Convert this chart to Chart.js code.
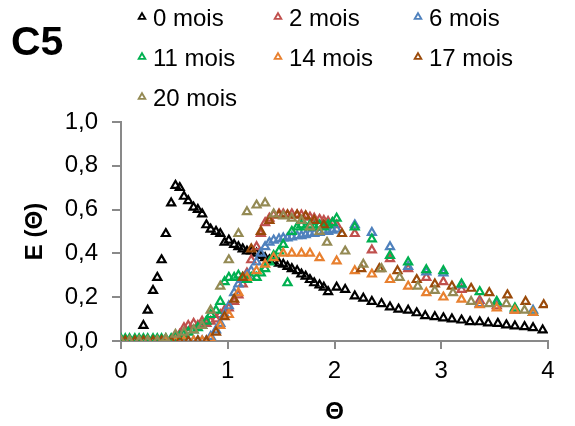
<!DOCTYPE html>
<html>
<head>
<meta charset="utf-8">
<script src="https://cdn.jsdelivr.net/npm/chart.js@4.4.1/dist/chart.umd.min.js"></script>
<style>
  html, body { margin: 0; padding: 0; background: #fff; }
  canvas { display: block; }
</style>
</head>
<body>
<canvas id="myChart" width="575" height="426"></canvas>
<script>
// theta positions
var thetaBlack = [0, 0.04, 0.08, 0.13, 0.17, 0.21, 0.25, 0.30, 0.34, 0.38, 0.42, 0.47, 0.51, 0.55, 0.59,
  0.63, 0.68, 0.72, 0.76, 0.80, 0.84, 0.89, 0.93, 0.97, 1.01, 1.06, 1.10, 1.14, 1.18, 1.22, 1.27, 1.31,
  1.35, 1.39, 1.43, 1.48, 1.52, 1.56, 1.60, 1.65, 1.69, 1.73, 1.77, 1.81, 1.86, 1.90, 1.94, 2.02, 2.10,
  2.19, 2.27, 2.35, 2.44, 2.52, 2.60, 2.69, 2.77, 2.85, 2.94, 3.02, 3.10, 3.19, 3.27, 3.36, 3.44, 3.53,
  3.61, 3.69, 3.78, 3.86, 3.95];
var thetaFine = [0, 0.04, 0.08, 0.13, 0.17, 0.21, 0.25, 0.30, 0.34, 0.38, 0.42, 0.47, 0.51, 0.55, 0.59,
  0.63, 0.68, 0.72, 0.76, 0.80, 0.84, 0.89, 0.93, 0.97, 1.01, 1.06, 1.10, 1.14, 1.18, 1.22, 1.27, 1.31,
  1.35, 1.39, 1.43, 1.48, 1.52, 1.56, 1.60, 1.65, 1.69, 1.73, 1.77, 1.81, 1.86, 1.90, 1.94, 1.98, 2.02,
  2.19, 2.35, 2.52, 2.69, 2.86, 3.02, 3.19, 3.36, 3.52, 3.69, 3.86];
var theta14 = [0, 0.08, 0.17, 0.25, 0.34, 0.42, 0.51, 0.59, 0.68, 0.76, 0.84, 0.93, 1.01, 1.10, 1.18,
  1.27, 1.35, 1.43, 1.52, 1.60, 1.69, 1.77, 1.86, 2.02, 2.19, 2.35, 2.52, 2.69, 2.86, 3.02, 3.19, 3.36,
  3.52, 3.69, 3.86];
var theta17 = [0.04, 0.13, 0.21, 0.30, 0.38, 0.47, 0.55, 0.63, 0.72, 0.80, 0.89, 0.97, 1.06, 1.14, 1.22,
  1.31, 1.39, 1.48, 1.56, 1.65, 1.73, 1.81, 1.90, 2.07, 2.25, 2.42, 2.59, 2.77, 2.94, 3.10, 3.28, 3.45,
  3.62, 3.79, 3.96];
var theta20 = [0, 0.08, 0.17, 0.25, 0.34, 0.42, 0.51, 0.59, 0.68, 0.76, 0.84, 0.93, 1.01, 1.10, 1.18,
  1.27, 1.35, 1.43, 1.52, 1.60, 1.69, 1.77, 1.86, 1.93, 2.10, 2.27, 2.44, 2.61, 2.78, 2.94, 3.11, 3.28,
  3.45, 3.61, 3.78];

// E(theta) values per age
var e0 = [0, 0, 0, 0, 0, 0.07, 0.14, 0.23, 0.29, 0.37, 0.49, 0.63, 0.71, 0.70, 0.66, 0.64, 0.61, 0.60,
  0.58, 0.53, 0.51, 0.50, 0.49, 0.45, 0.46, 0.44, 0.43, 0.42, 0.41, 0.41, 0.40, 0.39, 0.38, 0.37, 0.365,
  0.355, 0.35, 0.34, 0.33, 0.32, 0.305, 0.295, 0.28, 0.265, 0.255, 0.245, 0.225, 0.245, 0.235, 0.205,
  0.195, 0.18, 0.17, 0.155, 0.145, 0.14, 0.128, 0.115, 0.11, 0.105, 0.10, 0.095, 0.088, 0.087, 0.082,
  0.08, 0.073, 0.068, 0.065, 0.06, 0.05];
var e2 = [0, 0, 0, 0, 0, 0, 0, 0, 0, 0, 0, 0, 0.01, 0.03, 0.06, 0.07, 0.08, 0.07, 0.09, 0.08, 0.09, 0.10,
  0.12, 0.14, 0.15, 0.18, 0.21, 0.26, 0.31, 0.37, 0.43, 0.49, 0.54, 0.56, 0.575, 0.58, 0.58, 0.575, 0.58,
  0.575, 0.575, 0.57, 0.565, 0.56, 0.555, 0.55, 0.545, 0.54, 0.53, 0.49, 0.415, 0.375, 0.33, 0.29, 0.27,
  0.235, 0.185, 0.16, 0.14, 0.13];
var e6 = [0, 0, 0, 0, 0, 0, 0, 0, 0, 0, 0, 0, 0, 0, 0, 0, 0, 0, 0, 0, 0.02, 0.05, 0.08, 0.12, 0.16, 0.22,
  0.26, 0.28, 0.30, 0.32, 0.36, 0.40, 0.43, 0.45, 0.46, 0.465, 0.47, 0.47, 0.475, 0.48, 0.48, 0.485, 0.49,
  0.49, 0.495, 0.50, 0.50, 0.505, 0.51, 0.53, 0.495, 0.43, 0.34, 0.315, 0.31, 0.255, 0.17, 0.175, 0.145,
  0.14];
var e11 = [0.01, 0.01, 0.01, 0.01, 0.01, 0.01, 0.01, 0.01, 0.01, 0.01, 0.01, 0.01, 0.02, 0.02, 0.03, 0.04,
  0.05, 0.06, 0.07, 0.09, 0.12, 0.14, 0.18, 0.27, 0.29, 0.29, 0.30, 0.29, 0.28, 0.29, 0.29, 0.31, 0.33,
  0.36, 0.39, 0.41, 0.44, 0.265, 0.50, 0.52, 0.53, 0.52, 0.53, 0.52, 0.53, 0.52, 0.53, 0.54, 0.56, 0.52,
  0.465, 0.39, 0.36, 0.325, 0.32, 0.26, 0.225, 0.18, 0.15, 0.13];
var e14 = [0, 0, 0, 0, 0, 0, 0, 0, 0, 0, 0.01, 0.07, 0.12, 0.22, 0.29, 0.32, 0.35, 0.38, 0.40, 0.40, 0.40,
  0.40, 0.38, 0.365, 0.32, 0.305, 0.28, 0.25, 0.22, 0.20, 0.19, 0.165, 0.15, 0.14, 0.13];
var e17 = [0, 0, 0, 0, 0, 0, 0, 0, 0, 0, 0.04, 0.11, 0.19, 0.29, 0.42, 0.50, 0.55, 0.575, 0.575, 0.575,
  0.57, 0.55, 0.53, 0.49, 0.33, 0.33, 0.32, 0.28, 0.26, 0.25, 0.24, 0.22, 0.21, 0.18, 0.165];
var e20 = [0, 0, 0, 0, 0, 0.01, 0.03, 0.04, 0.05, 0.07, 0.14, 0.25, 0.37, 0.49, 0.59, 0.62, 0.63, 0.58,
  0.57, 0.56, 0.55, 0.52, 0.50, 0.45, 0.41, 0.35, 0.33, 0.29, 0.25, 0.23, 0.22, 0.18, 0.17, 0.17, 0.14];

var seriesNames = ["0 mois", "2 mois", "6 mois", "11 mois", "14 mois", "17 mois", "20 mois"];
var seriesColors = ["#000000", "#C0504D", "#4F81BD", "#00B050", "#E8802F", "#9A4A0A", "#948A54"];
var yTicks = [0, 0.2, 0.4, 0.6, 0.8, 1.0];
var xTicks = [0, 1, 2, 3, 4];

var FONT = '"Liberation Sans", Arial, sans-serif';

function pairs(t, e) {
  return t.map(function (v, i) { return { x: v, y: e[i] }; });
}

var allTheta = [thetaBlack, thetaFine, thetaFine, thetaFine, theta14, theta17, theta20];
var allE = [e0, e2, e6, e11, e14, e17, e20];

var datasets = seriesNames.map(function (name, i) {
  return {
    label: name,
    data: pairs(allTheta[i], allE[i]),
    showLine: false,
    pointStyle: "triangle",
    pointRadius: 4.6,
    pointBorderWidth: 2.2,
    borderColor: seriesColors[i],
    backgroundColor: "rgba(0,0,0,0)",
    order: seriesNames.length - 1 - i, // last series drawn on top, like Excel
  };
});

// title "C5" and 3-column legend
var legendCols = [142, 278, 418];
var legendRows = [26, 66, 106];

var headerPlugin = {
  id: "header",
  afterDraw: function (chart) {
    var ctx = chart.ctx;
    ctx.save();
    ctx.fillStyle = "#000";
    ctx.textBaseline = "alphabetic";
    ctx.font = "bold 41px " + FONT;
    ctx.fillText("C5", 11, 55);
    ctx.font = "24px " + FONT;
    chart.data.datasets.forEach(function (ds, i) {
      var mx = legendCols[i % 3];
      var base = legendRows[Math.floor(i / 3)];
      var my = base - 9;
      var r = 3.8;
      ctx.beginPath();
      ctx.moveTo(mx, my - r);
      ctx.lineTo(mx + r * 0.866, my + r * 0.5);
      ctx.lineTo(mx - r * 0.866, my + r * 0.5);
      ctx.closePath();
      ctx.lineWidth = 1.9;
      ctx.strokeStyle = ds.borderColor;
      ctx.stroke();
      ctx.fillStyle = "#000";
      ctx.fillText(ds.label, mx + 11, base);
    });
    ctx.restore();
  },
};

var ctx = document.getElementById("myChart").getContext("2d");
var myChart = new Chart(ctx, {
  type: "scatter",
  data: { datasets: datasets },
  plugins: [headerPlugin],
  options: {
    responsive: false,
    animation: false,
    devicePixelRatio: 1,
    layout: { padding: { top: 122, right: 27, bottom: 0, left: 0 } },
    plugins: { legend: { display: false }, tooltip: { enabled: false } },
    scales: {
      x: {
        type: "linear",
        min: 0,
        max: 4,
        afterBuildTicks: function (s) { s.ticks = xTicks.map(function (v) { return { value: v }; }); },
        ticks: { color: "#000", font: { size: 24, family: FONT }, padding: 8 },
        grid: { drawOnChartArea: false, drawTicks: true, tickLength: 8, color: "#898989", lineWidth: 2 },
        border: { color: "#898989", width: 2 },
        title: {
          display: true, text: "Θ", color: "#000",
          font: { size: 24, weight: "bold", family: FONT, lineHeight: 1 },
          padding: { top: 0, bottom: 2 },
        },
        afterFit: function (s) { s.height = 85; },
      },
      y: {
        type: "linear",
        min: 0,
        max: 1,
        afterBuildTicks: function (s) { s.ticks = yTicks.map(function (v) { return { value: v }; }); },
        ticks: {
          color: "#000",
          font: { size: 24, family: FONT },
          padding: 14,
          callback: function (v) { return v.toFixed(1).replace(".", ","); },
        },
        grid: { drawOnChartArea: false, drawTicks: true, tickLength: 9, color: "#898989", lineWidth: 2 },
        border: { color: "#898989", width: 2 },
        title: {
          display: true, text: "E (Θ)", color: "#000",
          font: { size: 24, weight: "bold", family: FONT, lineHeight: 1 },
          padding: { top: 23, bottom: 0 },
        },
        afterFit: function (s) { s.width = 121; },
      },
    },
  },
});
</script>
</body>
</html>
